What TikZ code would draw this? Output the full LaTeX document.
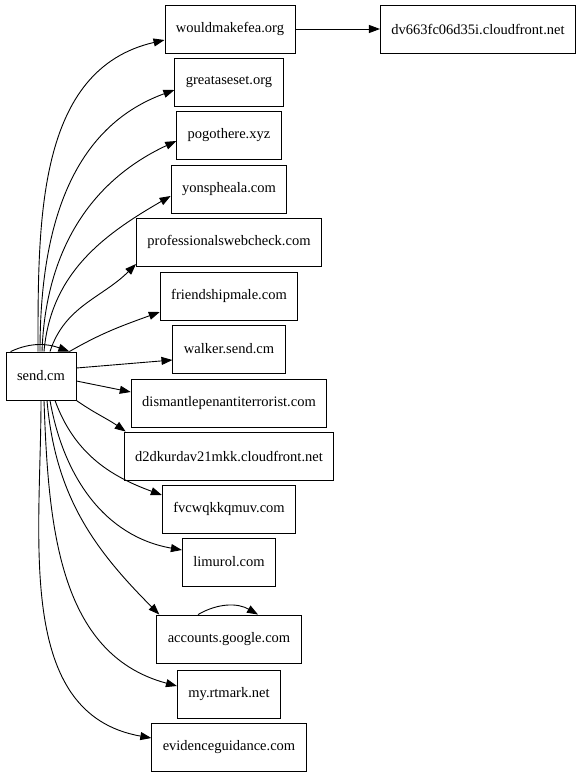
\documentclass[tikz,border=0pt]{standalone}
\usepackage{fontspec}
\setmainfont{Liberation Serif}
\usetikzlibrary{arrows.meta,positioning}

\begin{document}
\begin{tikzpicture}[x=1pt, y=-1pt, >={Triangle[length=11pt,width=8pt]},
    every node/.style={font=\fontsize{14.5}{17}\selectfont},
    host/.style={draw, rectangle, line width=0.9pt, minimum height=48pt, inner xsep=11pt},
    link/.style={->, line width=0.9pt}]
    \useasboundingbox (0,0) rectangle (581,776);

    % Source domain
    \node[host] (send) at (41,376) {send.cm};

    % Contacted hosts
    \node[host] (would) at (230,29) {wouldmakefea.org};
    \node[host] (dv) at (478,29) {dv663fc06d35i.cloudfront.net};
    \node[host] (great) at (229,82) {greataseset.org};
    \node[host] (pogo) at (229,135) {pogothere.xyz};
    \node[host] (yons) at (229,189) {yonspheala.com};
    \node[host] (prof) at (229,242) {professionalswebcheck.com};
    \node[host] (friend) at (229,296) {friendshipmale.com};
    \node[host] (walker) at (229,349) {walker.send.cm};
    \node[host] (dismantle) at (229,403) {dismantlepenantiterrorist.com};
    \node[host] (d2d) at (229,456) {d2dkurdav21mkk.cloudfront.net};
    \node[host] (fvc) at (229,509) {fvcwqkkqmuv.com};
    \node[host] (limurol) at (229,562) {limurol.com};
    \node[host] (accounts) at (229,639) {accounts.google.com};
    \node[host] (rtmark) at (229,694) {my.rtmark.net};
    \node[host] (evidence) at (229,747) {evidenceguidance.com};

    % Self loops
    \draw[link] ([xshift=5pt]send.north west) to[out=25,in=160] ([xshift=-7pt]send.north east);
    \draw[link] ([xshift=-31pt]accounts.north) to[out=30,in=150] ([xshift=29pt]accounts.north);

    % Upper fan
    \draw[link] ([xshift=-3pt]send.north) to[out=90,in=193] ([yshift=-11pt]would.west);
    \draw[link] ([xshift=-1pt]send.north) to[out=90,in=200] ([yshift=-8pt]great.west);
    \draw[link] ([xshift=1pt]send.north) to[out=88,in=205] ([yshift=-6pt]pogo.west);
    \draw[link] ([xshift=3pt]send.north) to[out=85,in=210] ([yshift=-7pt]yons.west);
    \draw[link] ([xshift=9pt]send.north) to[out=72,in=225] ([yshift=-22pt]prof.west);
    \draw[link] ([xshift=-7pt]send.north east) to[out=30,in=200] ([yshift=-16pt]friend.west);
    \draw[link] ([yshift=8pt]send.east) -- ([yshift=-11pt]walker.west);
    \draw[link] ([yshift=-5pt]send.east) -- ([yshift=11pt]dismantle.west);

    % Lower fan
    \draw[link] (send.south east) to[out=-35,in=145] ([xshift=2pt]d2d.north west);
    \draw[link] ([xshift=14pt]send.south) to[out=-70,in=160] ([yshift=14pt]fvc.west);
    \draw[link] ([xshift=9pt]send.south) to[out=-80,in=170] ([yshift=12pt]limurol.west);
    \draw[link] ([xshift=6pt]send.south) to[out=-85,in=135] ([xshift=3pt]accounts.north west);
    \draw[link] ([xshift=3pt]send.south) to[out=-88,in=165] ([yshift=8pt]rtmark.west);
    \draw[link] (send.south) to[out=-90,in=170] ([yshift=9pt]evidence.west);

    % Second hop
    \draw[link] (would) -- (dv);
\end{tikzpicture}
\end{document}
